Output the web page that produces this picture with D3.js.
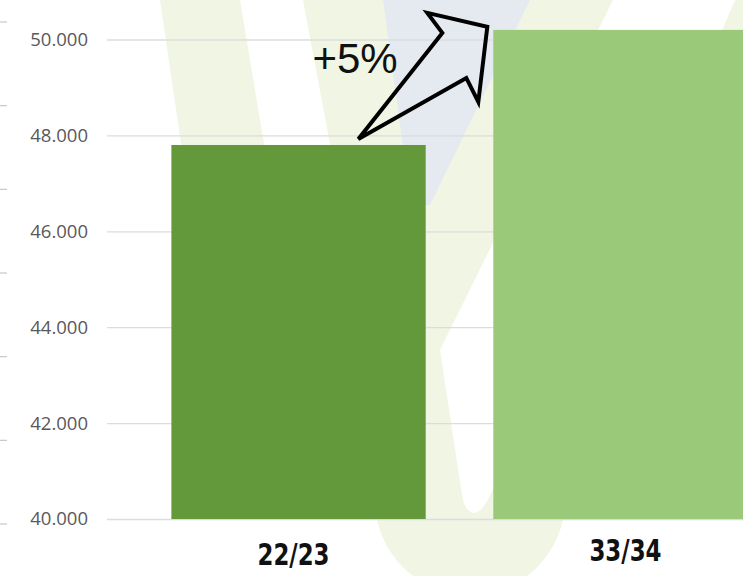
<!DOCTYPE html>
<html>
<head>
<meta charset="utf-8">
<script src="https://cdn.jsdelivr.net/npm/d3@7"></script>
<style>
  body { margin: 0; background: #fff; }
  svg { display: block; }
</style>
</head>
<body>
<div id="chart"></div>
<script>
// data
const categories = ["22/23", "33/34"];
const values = [47800, 50200];
const yTicks = [40000, 42000, 44000, 46000, 48000, 50000];
const barColors = ["#63993b", "#9bc97a"];
const labelShift = [-5, 5];
const changeLabel = "+5%";

const width = 743, height = 576;

const de = d3.formatLocale({decimal: ",", thousands: ".", grouping: [3], currency: ["", "€"]});
const fmt = de.format(",");

const svg = d3.select("#chart").append("svg")
    .attr("width", width)
    .attr("height", height);

// faint logo watermark behind the chart
const bg = svg.append("g").attr("class", "watermark");
const lightGreen = "#f0f5e4", lightBlue = "#e5eaf1";
const shapes = [
  {fill: lightGreen, pts: [[160,0],[240,0],[265,150],[182,150]]},
  {fill: lightGreen, pts: [[303,0],[613,0],[560,113],[500,560],[400,560],[330,144]]},
  {fill: lightGreen, pts: [[735,0],[743,0],[743,40],[718,40]]}
];
shapes.forEach(s => bg.append("polygon").attr("points", s.pts.join(" ")).attr("fill", s.fill));
bg.append("circle").attr("cx", 470).attr("cy", 500).attr("r", 95).attr("fill", lightGreen);
bg.append("polygon")
    .attr("points", [[383,0],[530,0],[430,205],[411,205]].join(" "))
    .attr("fill", lightBlue);
bg.append("path")
    .attr("d", "M613,0 L735,0 L712,45 L500,470 Q485,515 473,513 Q464,510 462,495 L440,350 Z")
    .attr("fill", "#fff");

// stray ticks on the far left edge
const edge = d3.scaleLinear().domain([0, 6]).range([22, 524]);
svg.append("g").selectAll("line")
  .data(d3.range(7))
  .join("line")
    .attr("x1", 0).attr("x2", 7)
    .attr("y1", d => edge(d)).attr("y2", d => edge(d))
    .attr("stroke", "#c8c8c8")
    .attr("stroke-width", 1.2);

const x = d3.scaleBand()
    .domain(categories)
    .range([107, 812])
    .paddingInner(0.21)
    .paddingOuter(0.2);

const y = d3.scaleLinear()
    .domain([40000, 50000])
    .range([519, 39.5]);

// grid + tick labels
const yAxis = svg.append("g")
    .attr("transform", "translate(107,0)")
    .call(d3.axisLeft(y).tickValues(yTicks).tickFormat(fmt).tickSize(-(width - 107)).tickPadding(19));
yAxis.select(".domain").remove();
yAxis.selectAll(".tick line").attr("stroke", "#dcdcdc").attr("stroke-width", 1.3);
yAxis.selectAll(".tick text")
    .attr("fill", "#595959")
    .style("font-family", "'Open Sans', 'Noto Sans', sans-serif")
    .style("font-size", "18.5px");

// bars
svg.append("g")
  .selectAll("rect")
  .data(categories)
  .join("rect")
    .attr("x", d => x(d))
    .attr("y", (d, i) => y(values[i]))
    .attr("width", x.bandwidth())
    .attr("height", (d, i) => y(40000) - y(values[i]))
    .attr("fill", (d, i) => barColors[i]);

// category labels (narrow bold look)
svg.append("g")
  .selectAll("text")
  .data(categories)
  .join("text")
    .attr("x", (d, i) => x(d) + x.bandwidth() / 2 + labelShift[i])
    .attr("y", (d, i) => i === 0 ? 565 : 561)
    .attr("text-anchor", "middle")
    .attr("textLength", 72)
    .attr("lengthAdjust", "spacingAndGlyphs")
    .attr("fill", "#111")
    .style("font-family", "'DejaVu Sans Condensed', 'DejaVu Sans', sans-serif")
    .style("font-weight", "bold")
    .style("font-size", "31px")
    .text(d => d);

// growth arrow, anchored on the two bar tops
const tail = [x(categories[0]) + 187, y(values[0]) - 6];
const tip = [x(categories[1]) - 6, y(values[1]) - 3];
const rel = ([dx, dy]) => [tip[0] + dx, tip[1] + dy];
const arrowPts = [tail, rel([-45, 6]), rel([-60, -14]), tip, rel([-9, 75]), rel([-21, 51])];
svg.append("polygon")
    .attr("points", arrowPts.join(" "))
    .attr("fill", "none")
    .attr("stroke", "#000")
    .attr("stroke-width", 4)
    .attr("stroke-linejoin", "miter");

svg.append("text")
    .attr("x", tail[0] - 46)
    .attr("y", tail[1] - 66)
    .attr("fill", "#111")
    .style("font-family", "'Liberation Sans', Arial, sans-serif")
    .style("font-size", "42px")
    .text(changeLabel);
</script>
</body>
</html>
